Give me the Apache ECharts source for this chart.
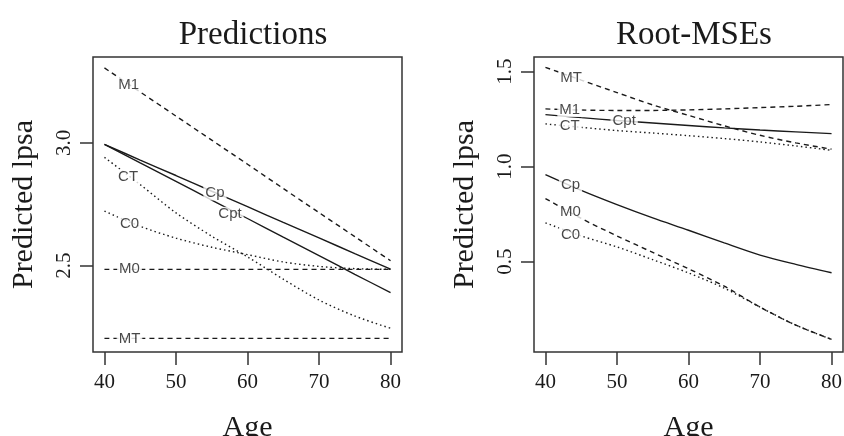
<!DOCTYPE html>
<html>
<head>
<meta charset="utf-8">
<script src="https://cdn.jsdelivr.net/npm/echarts@6/dist/echarts.min.js"></script>
<style>
  html, body { margin: 0; padding: 0; background: #fff; }
  #chart { width: 844px; height: 436px; }
</style>
</head>
<body>
<div id="chart"></div>
<script>
// ages on the x axis
const ages = [40, 45, 50, 55, 60, 65, 70, 75, 80];
const xTicks = [40, 50, 60, 70, 80];

// left panel: predictions
const predNames = ["M1", "Cp", "Cpt", "CT", "C0", "M0", "MT"];
const predM1 = [3.305, 3.207, 3.109, 3.011, 2.913, 2.814, 2.716, 2.618, 2.52];
const predCp = [2.994, 2.93, 2.867, 2.803, 2.74, 2.676, 2.613, 2.549, 2.486];
const predCpt = [2.994, 2.918, 2.843, 2.767, 2.692, 2.616, 2.541, 2.465, 2.39];
const predCT = [2.941, 2.83, 2.715, 2.62, 2.536, 2.445, 2.36, 2.295, 2.245];
const predC0 = [2.722, 2.66, 2.612, 2.575, 2.545, 2.515, 2.497, 2.488, 2.485];
const predM0 = [2.485, 2.485, 2.485, 2.485, 2.485, 2.485, 2.485, 2.485, 2.485];
const predMT = [2.204, 2.204, 2.204, 2.204, 2.204, 2.204, 2.204, 2.204, 2.204];
const predTicks = [2.5, 3.0];
// where the curve names sit
const predLabelAge = [43.4, 55.45, 57.55, 43.3, 43.5, 43.5, 43.5];
const predLabelVal = [3.235, 2.796, 2.709, 2.862, 2.672, 2.485, 2.204];

// right panel: root-MSEs
const rmseNames = ["MT", "M1", "Cpt", "CT", "Cp", "M0", "C0"];
const rmseMT = [1.523, 1.456, 1.39, 1.325, 1.27, 1.215, 1.165, 1.125, 1.092];
const rmseM1 = [1.304, 1.298, 1.296, 1.296, 1.299, 1.304, 1.311, 1.318, 1.327];
const rmseCpt = [1.274, 1.258, 1.243, 1.23, 1.217, 1.204, 1.193, 1.183, 1.174];
const rmseCT = [1.225, 1.207, 1.19, 1.177, 1.163, 1.148, 1.13, 1.109, 1.086];
const rmseCp = [0.958, 0.875, 0.8, 0.73, 0.665, 0.598, 0.534, 0.485, 0.441];
const rmseM0 = [0.832, 0.727, 0.635, 0.548, 0.462, 0.37, 0.26, 0.165, 0.09];
const rmseC0 = [0.704, 0.635, 0.577, 0.51, 0.44, 0.36, 0.26, 0.165, 0.09];
const rmseTicks = [0.5, 1.0, 1.5];
const rmseLabelAge = [43.6, 43.4, 51.0, 43.4, 43.5, 43.5, 43.5];
const rmseLabelVal = [1.467, 1.301, 1.241, 1.213, 0.902, 0.762, 0.642];

const ink = "#1a1a1a";
const serif = "Liberation Serif";
const sans = "Liberation Sans";

// line type by model name: M* dashed, C0/CT dotted, Cp/Cpt solid
function dashOf(name) {
  if (name[0] === "M") return [5, 4];
  if (name === "C0" || name === "CT") return [1.5, 3];
  return "solid";
}

function lineSeries(name, values, idx) {
  return {
    type: "line",
    name: name,
    xAxisIndex: idx,
    yAxisIndex: idx,
    data: ages.map((a, i) => [a, values[i]]),
    showSymbol: false,
    smooth: 0.3,
    lineStyle: { color: ink, width: 1.4, type: dashOf(name) },
    z: 2,
  };
}

function labelSeries(names, agesAt, vals, idx) {
  return {
    type: "scatter",
    xAxisIndex: idx,
    yAxisIndex: idx,
    symbolSize: 0,
    data: names.map((n, i) => ({ name: n, value: [agesAt[i], vals[i]] })),
    label: {
      show: true,
      position: "inside",
      formatter: (p) => p.name,
      fontFamily: sans,
      fontSize: 15,
      color: ink,
      backgroundColor: "#fff",
      padding: [0, 2],
    },
    z: 10,
  };
}

function xAxisOf(idx) {
  return {
    type: "value",
    gridIndex: idx,
    min: 38.4,
    max: 81.6,
    name: "Age",
    nameLocation: "middle",
    nameGap: 61,
    nameTextStyle: { fontFamily: serif, fontSize: 30, color: ink },
    axisLine: { show: false },
    splitLine: { show: false },
    axisTick: { show: true, length: 13, customValues: xTicks, lineStyle: { color: "#333", width: 1.5 } },
    axisLabel: { customValues: xTicks, margin: 20, fontFamily: serif, fontSize: 21, color: ink },
  };
}

function yAxisOf(idx, min, max, ticks) {
  return {
    type: "value",
    gridIndex: idx,
    min: min,
    max: max,
    name: "Predicted lpsa",
    nameLocation: "middle",
    nameGap: 54,
    nameTextStyle: { fontFamily: serif, fontSize: 30, color: ink },
    axisLine: { show: false },
    splitLine: { show: false },
    axisTick: { show: true, length: 13, customValues: ticks, lineStyle: { color: "#333", width: 1.5 } },
    axisLabel: {
      customValues: ticks,
      rotate: 90,
      margin: 18,
      formatter: (v) => v.toFixed(1),
      fontFamily: serif,
      fontSize: 21,
      color: ink,
    },
  };
}

const chart = echarts.init(document.getElementById("chart"));
const predSeries = [predM1, predCp, predCpt, predCT, predC0, predM0, predMT];
const rmseSeries = [rmseMT, rmseM1, rmseCpt, rmseCT, rmseCp, rmseM0, rmseC0];

const gridBase = {
  top: 57, width: 309, height: 295, show: true,
  borderColor: "#333", borderWidth: 1.5, backgroundColor: "transparent",
  outerBoundsMode: "none", containLabel: false,
};

chart.setOption({
  animation: false,
  backgroundColor: "#fff",
  title: [
    { text: "Predictions", left: 248, top: 14, textAlign: "center",
      textStyle: { fontFamily: serif, fontSize: 33, fontWeight: "normal", color: ink } },
    { text: "Root-MSEs", left: 689, top: 14, textAlign: "center",
      textStyle: { fontFamily: serif, fontSize: 33, fontWeight: "normal", color: ink } },
  ],
  grid: [
    Object.assign({ left: 93 }, gridBase),
    Object.assign({ left: 534 }, gridBase),
  ],
  xAxis: [xAxisOf(0), xAxisOf(1)],
  yAxis: [
    yAxisOf(0, 2.1485, 3.3495, predTicks),
    yAxisOf(1, 0.0235, 1.5775, rmseTicks),
  ],
  series: [
    ...predSeries.map((v, i) => lineSeries(predNames[i], v, 0)),
    ...rmseSeries.map((v, i) => lineSeries(rmseNames[i], v, 1)),
    labelSeries(predNames, predLabelAge, predLabelVal, 0),
    labelSeries(rmseNames, rmseLabelAge, rmseLabelVal, 1),
  ],
});
</script>
</body>
</html>
